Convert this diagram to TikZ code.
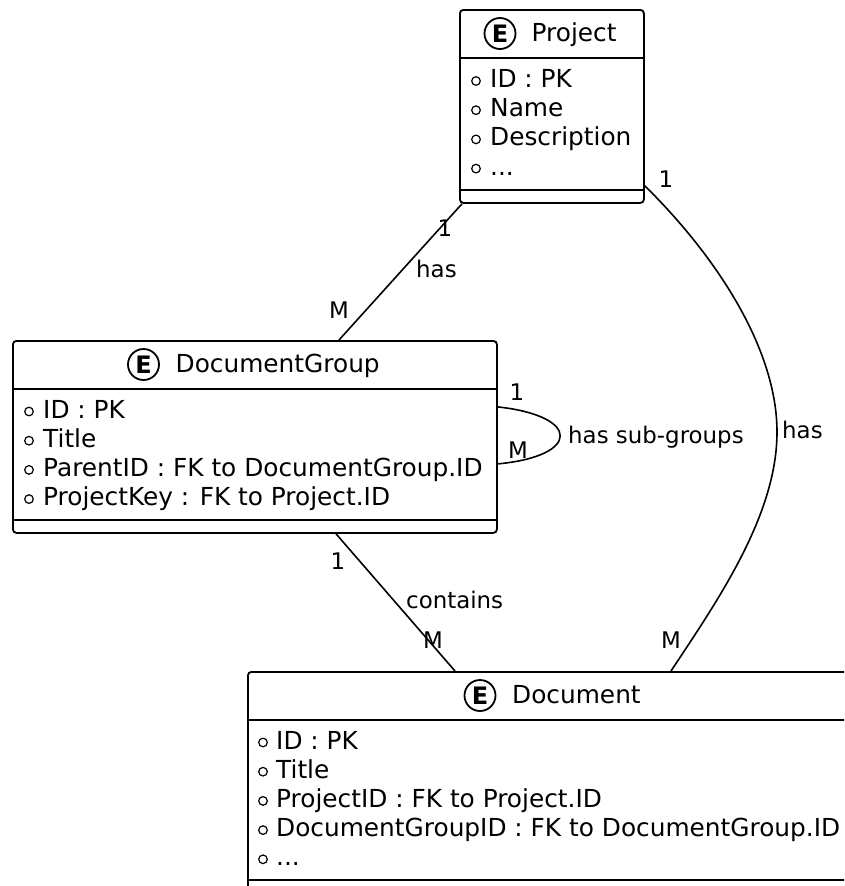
\documentclass[tikz,border=0pt]{standalone}
\usepackage{fontspec}
\setmainfont{DejaVu Sans}
\newcommand\attrfont{\fontsize{24.8pt}{29pt}\selectfont}
\newcommand\lblfont{\fontsize{22.9pt}{26pt}\selectfont}
\newcommand\spotfont{\fontsize{24pt}{24pt}\selectfont\bfseries}
\newcommand\etcdots{...}
\tikzset{
  entity/.style={draw, line width=1.8pt, rounded corners=3.5pt, inner sep=0pt, anchor=north west},
  rule/.style={line width=1.8pt},
  attr/.style={anchor=base west, inner sep=0pt, font=\attrfont},
  spot/.style={draw, line width=1.8pt, circle, minimum size=31pt, inner sep=0pt, font=\spotfont},
  bullet/.style={line width=1.2pt},
  rel/.style={line width=1.6pt},
  lbl/.style={inner sep=0pt, font=\lblfont},
}
\begin{document}
\begin{tikzpicture}[x=1pt, y=-1pt]
\useasboundingbox (0,0) rectangle (844,886);
\clip (0,0) rectangle (844,886);

% ---------- Project ----------
\node[entity, minimum width=184pt, minimum height=193pt] (proj) at (459,9) {};
\draw[rule] ([yshift=-49pt]proj.north west) -- ([yshift=-49pt]proj.north east);
\draw[rule] ([yshift=14pt]proj.south west) -- ([yshift=14pt]proj.south east);
\node[spot] (projE) at (500,33.5) {E};
\node[attr] (projT) at (531.5,41.5) {Project};
\foreach \y/\t [count=\i] in {87.5/ID : PK, 116.7/Name, 145.9/Description, 175.1/\etcdots}{
  \draw[bullet] (476,\y-6.5) circle (4.3pt);
  \node[attr] (projA\i) at (490,\y) {\t};
}

% ---------- DocumentGroup ----------
\node[entity, minimum width=484pt, minimum height=192pt] (dg) at (12,340) {};
\draw[rule] ([yshift=-49pt]dg.north west) -- ([yshift=-49pt]dg.north east);
\draw[rule] ([yshift=13.5pt]dg.south west) -- ([yshift=13.5pt]dg.south east);
\node[spot] (dgE) at (143.5,364.5) {E};
\node[attr] (dgT) at (175.5,372) {DocumentGroup};
\foreach \y/\t [count=\i] in {418/ID : PK, 447.2/Title, 476.4/ParentID : FK to DocumentGroup.ID, 505.6/ProjectKey : FK to Project.ID}{
  \draw[bullet] (29,\y-6.5) circle (4.3pt);
  \node[attr] (dgA\i) at (43,\y) {\t};
}

% ---------- Document ----------
\node[entity, minimum width=610pt, minimum height=221pt] (doc) at (247,671) {};
\draw[rule] ([yshift=-49pt]doc.north west) -- ([yshift=-49pt]doc.north east);
\draw[rule] ([yshift=14pt]doc.south west) -- ([yshift=14pt]doc.south east);
\node[spot] (docE) at (480,695.5) {E};
\node[attr] (docT) at (512,703) {Document};
\foreach \y/\t [count=\i] in {749/ID : PK, 778.2/Title, 807.4/ProjectID : FK to Project.ID, 836.6/DocumentGroupID : FK to DocumentGroup.ID, 865.8/\etcdots}{
  \draw[bullet] (263,\y-6.5) circle (4.3pt);
  \node[attr] (docA\i) at (276,\y) {\t};
}

% ---------- relations ----------
% Project 1 -- M DocumentGroup
\draw[rel] ([xshift=3pt]proj.south west) -- ([xshift=327pt]dg.north west);
\node[lbl, anchor=base] (l1a) at (445,236) {1};
\node[lbl, anchor=base west] (l1b) at (416,277) {has};
\node[lbl, anchor=base] (l1c) at (339,318) {M};

% DocumentGroup self reference
\draw[rel] ([yshift=30pt]dg.east) .. controls (581,416) and (581,456) .. ([yshift=-27pt]dg.east);
\node[lbl, anchor=base] (l2a) at (517,400) {1};
\node[lbl, anchor=base] (l2c) at (518,458) {M};
\node[lbl, anchor=base west] (l2b) at (568,443) {has sub-groups};

% DocumentGroup 1 -- M Document
\draw[rel] ([xshift=324pt]dg.south west) -- ([xshift=208pt]doc.north west);
\node[lbl, anchor=base] (l3a) at (338,569) {1};
\node[lbl, anchor=base west] (l3b) at (406,608) {contains};
\node[lbl, anchor=base] (l3c) at (433,648) {M};

% Project 1 -- M Document
\draw[rel] ([yshift=18pt]proj.south east) .. controls (718,258) and (777,350) .. (777,432)
  .. controls (777,515) and (718,600) .. ([xshift=424pt]doc.north west);
\node[lbl, anchor=base] (l4a) at (666,187) {1};
\node[lbl, anchor=base west] (l4b) at (782,438) {has};
\node[lbl, anchor=base] (l4c) at (671,648) {M};
\end{tikzpicture}
\end{document}
